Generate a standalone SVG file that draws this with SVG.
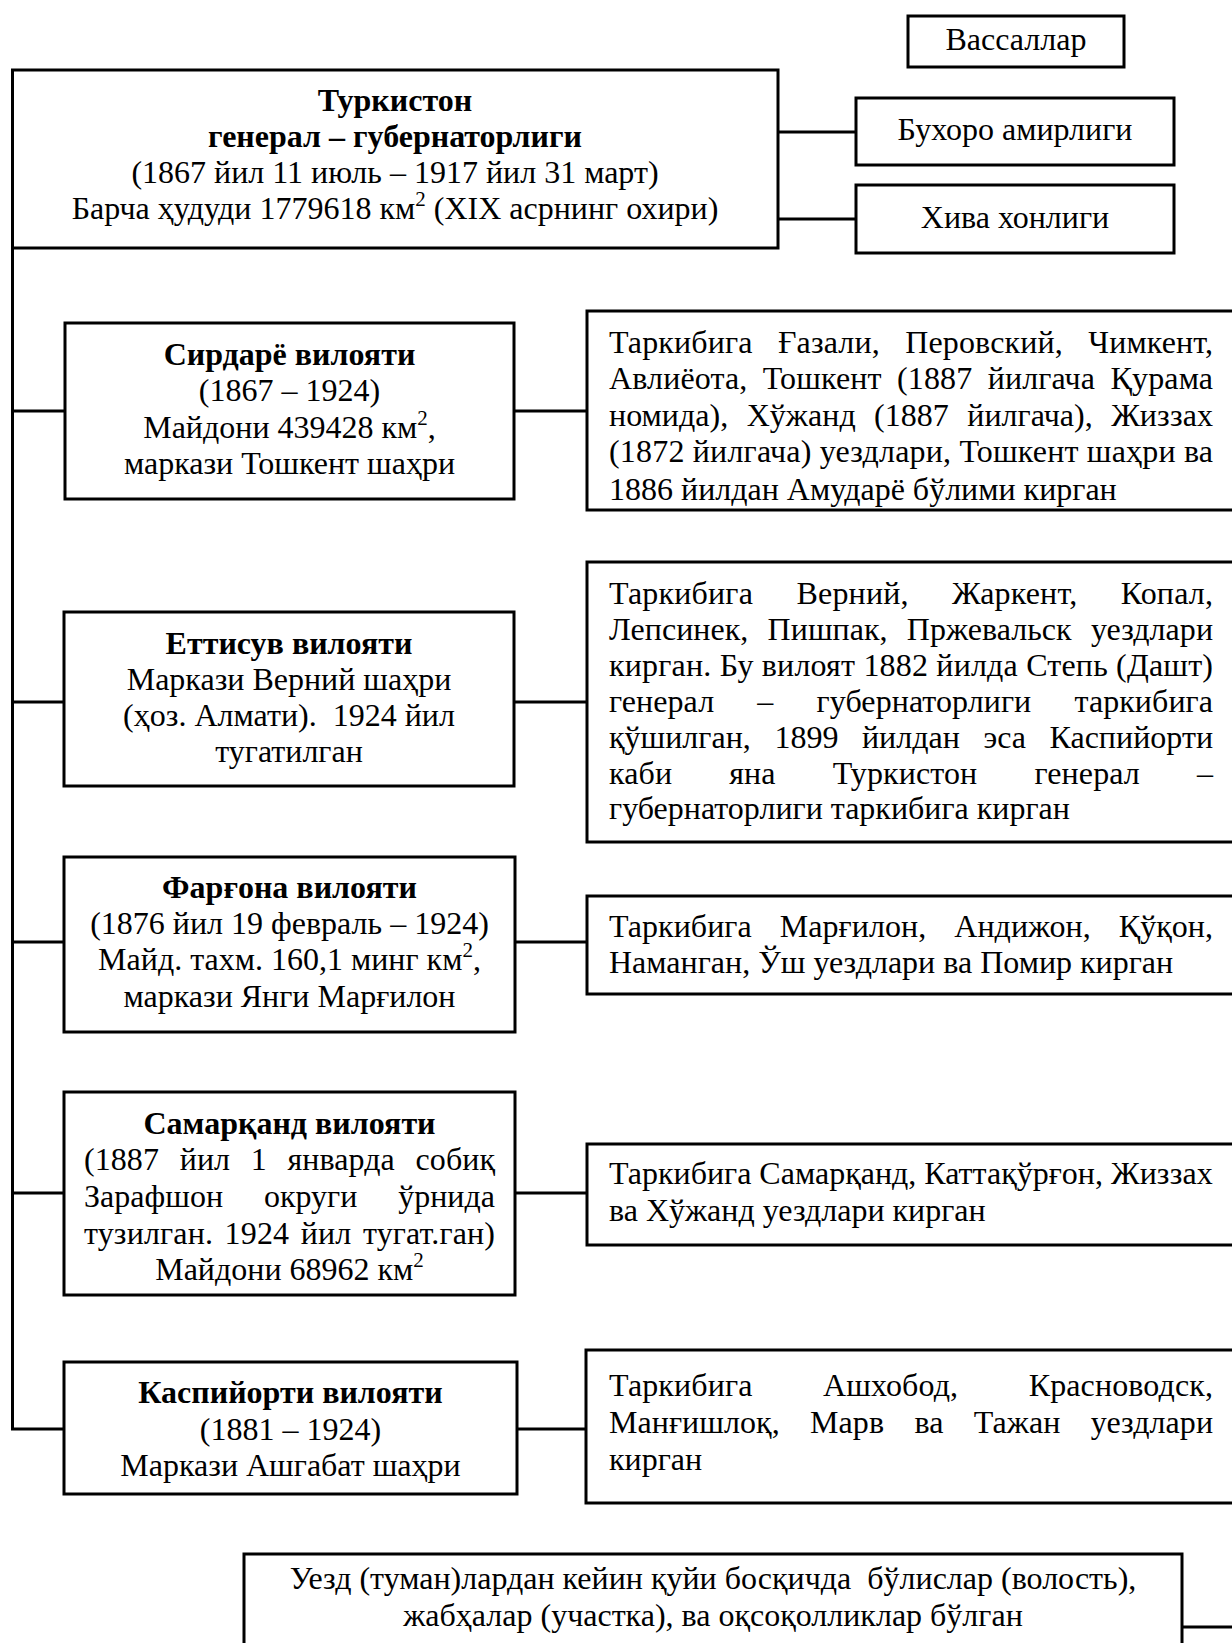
<svg xmlns="http://www.w3.org/2000/svg" width="1232" height="1643" viewBox="0 0 1232 1643">
<style>
.box{fill:#fff;stroke:#000;stroke-width:3}
.ln{fill:none;stroke:#000;stroke-width:3}
text{font-family:"Liberation Serif","Times New Roman","DejaVu Serif",serif;font-size:32px;fill:#000}
.b{font-weight:bold}
.c{text-anchor:middle}
</style>
<defs>
<clipPath id="clipS"><rect x="588" y="312" width="644" height="196"/></clipPath>
</defs>
<rect width="1232" height="1643" fill="#fff"/>
<g id="connectors">
<path class="ln" d="M12.5 248V1429H65"/>
<path class="ln" d="M12.5 411H65M514 411H587"/>
<path class="ln" d="M12.5 702H64M514 702H587"/>
<path class="ln" d="M12.5 942H64M515 942H587"/>
<path class="ln" d="M12.5 1193H64M515 1193H587"/>
<path class="ln" d="M517 1429H586"/>
<path class="ln" d="M778 132H856M778 219H856"/>
<path class="ln" d="M1182 1627H1232"/>
</g>
<g id="vassals">
<rect class="box" x="908" y="16" width="216" height="51"/>
<text class="c" x="1016" y="50">Вассаллар</text>
</g>
<g id="main">
<rect class="box" x="12.5" y="70" width="765.5" height="178"/>
<text class="c b" x="395" y="111">Туркистон</text>
<text class="c b" x="395" y="147">генерал – губернаторлиги</text>
<text class="c" x="395" y="183">(1867 йил 11 июль – 1917 йил 31 март)</text>
<text class="c" x="395" y="219">Барча ҳудуди 1779618 км<tspan dy="-13" font-size="21">2</tspan><tspan dy="13"> (XIX асрнинг охири)</tspan></text>
</g>
<g id="bukhara">
<rect class="box" x="856" y="98" width="318" height="67"/>
<text class="c" x="1015" y="140">Бухоро амирлиги</text>
</g>
<g id="khiva">
<rect class="box" x="856" y="185" width="318" height="68"/>
<text class="c" x="1015" y="228">Хива хонлиги</text>
</g>
<g id="syrdarya">
<rect class="box" x="65" y="323" width="449" height="176"/>
<text class="c b" x="289.5" y="365">Сирдарё вилояти</text>
<text class="c" x="289.5" y="401">(1867 – 1924)</text>
<text class="c" x="289.5" y="438">Майдони 439428 км<tspan dy="-13" font-size="21">2</tspan><tspan dy="13">,</tspan></text>
<text class="c" x="289.5" y="474">маркази Тошкент шаҳри</text>
</g>
<g id="syrdarya-info">
<rect class="box" x="587" y="311" width="660" height="199"/>
<g clip-path="url(#clipS)">
<text x="609" y="353" textLength="604" lengthAdjust="spacing" word-spacing="17.4">Таркибига Ғазали, Перовский, Чимкент,</text>
<text x="609" y="389" textLength="604" lengthAdjust="spacing" word-spacing="7.2">Авлиёота, Тошкент (1887 йилгача Қурама</text>
<text x="609" y="426" textLength="604" lengthAdjust="spacing" word-spacing="10.3">номида), Хўжанд (1887 йилгача), Жиззах</text>
<text x="609" y="462" textLength="604" lengthAdjust="spacing">(1872 йилгача) уездлари, Тошкент шаҳри ва</text>
<text x="609" y="500">1886 йилдан Амударё бўлими кирган</text>
</g>
</g>
<g id="semirechye">
<rect class="box" x="64" y="612" width="450" height="174"/>
<text class="c b" x="289" y="654">Еттисув вилояти</text>
<text class="c" x="289" y="690">Маркази Верний шаҳри</text>
<text class="c" x="289" y="726">(ҳоз. Алмати).&#160; 1924 йил</text>
<text class="c" x="289" y="762">тугатилган</text>
</g>
<g id="semirechye-info">
<rect class="box" x="587" y="562" width="660" height="280"/>
<text x="609" y="604" textLength="604" lengthAdjust="spacing" word-spacing="35.2">Таркибига Верний, Жаркент, Копал,</text>
<text x="609" y="640" textLength="604" lengthAdjust="spacing" word-spacing="11.2">Лепсинек, Пишпак, Пржевальск уездлари</text>
<text x="609" y="676" textLength="604" lengthAdjust="spacing">кирган. Бу вилоят 1882 йилда Степь (Дашт)</text>
<text x="609" y="712" textLength="604" lengthAdjust="spacing" word-spacing="35.1">генерал – губернаторлиги таркибига</text>
<text x="609" y="748" textLength="604" lengthAdjust="spacing" word-spacing="15.5">қўшилган, 1899 йилдан эса Каспийорти</text>
<text x="609" y="784" textLength="604" lengthAdjust="spacing" word-spacing="48.9">каби яна Туркистон генерал –</text>
<text x="609" y="819">губернаторлиги таркибига кирган</text>
</g>
<g id="fergana">
<rect class="box" x="64" y="857" width="451" height="175"/>
<text class="c b" x="289.5" y="898">Фарғона вилояти</text>
<text class="c" x="289.5" y="934">(1876 йил 19 февраль – 1924)</text>
<text class="c" x="289.5" y="970">Майд. тахм. 160,1 минг км<tspan dy="-13" font-size="21">2</tspan><tspan dy="13">,</tspan></text>
<text class="c" x="289.5" y="1007">маркази Янги Марғилон</text>
</g>
<g id="fergana-info">
<rect class="box" x="587" y="896" width="660" height="98"/>
<text x="609" y="937" textLength="604" lengthAdjust="spacing" word-spacing="20">Таркибига Марғилон, Андижон, Қўқон,</text>
<text x="609" y="973">Наманган, Ўш уездлари ва Помир кирган</text>
</g>
<g id="samarkand">
<rect class="box" x="64" y="1092" width="451" height="203"/>
<text class="c b" x="289.5" y="1134">Самарқанд вилояти</text>
<text x="84" y="1170" textLength="411" lengthAdjust="spacing" word-spacing="12.6">(1887 йил 1 январда собиқ</text>
<text x="84" y="1207" textLength="411" lengthAdjust="spacing" word-spacing="32.8">Зарафшон округи ўрнида</text>
<text x="84" y="1244" textLength="411" lengthAdjust="spacing" word-spacing="3.4">тузилган. 1924 йил тугат.ган)</text>
<text class="c" x="289.5" y="1280">Майдони 68962 км<tspan dy="-13" font-size="21">2</tspan></text>
</g>
<g id="samarkand-info">
<rect class="box" x="587" y="1144" width="660" height="101"/>
<text x="609" y="1184">Таркибига Самарқанд, Каттақўрғон, Жиззах</text>
<text x="609" y="1221">ва Хўжанд уездлари кирган</text>
</g>
<g id="transcaspia">
<rect class="box" x="64" y="1362" width="453" height="132"/>
<text class="c b" x="290.5" y="1403">Каспийорти вилояти</text>
<text class="c" x="290.5" y="1440">(1881 – 1924)</text>
<text class="c" x="290.5" y="1476">Маркази Ашгабат шаҳри</text>
</g>
<g id="transcaspia-info">
<rect class="box" x="586" y="1350" width="660" height="153"/>
<text x="609" y="1396" textLength="604" lengthAdjust="spacing" word-spacing="62.3">Таркибига Ашхобод, Красноводск,</text>
<text x="609" y="1433" textLength="604" lengthAdjust="spacing" word-spacing="22.3">Манғишлоқ, Марв ва Тажан уездлари</text>
<text x="609" y="1470">кирган</text>
</g>
<g id="volost">
<rect class="box" x="244" y="1554" width="938" height="120"/>
<text class="c" x="713" y="1589">Уезд (туман)лардан кейин қуйи босқичда&#160; бўлислар (волость),</text>
<text class="c" x="713" y="1626">жабҳалар (участка), ва оқсоқолликлар бўлган</text>
</g>
</svg>
